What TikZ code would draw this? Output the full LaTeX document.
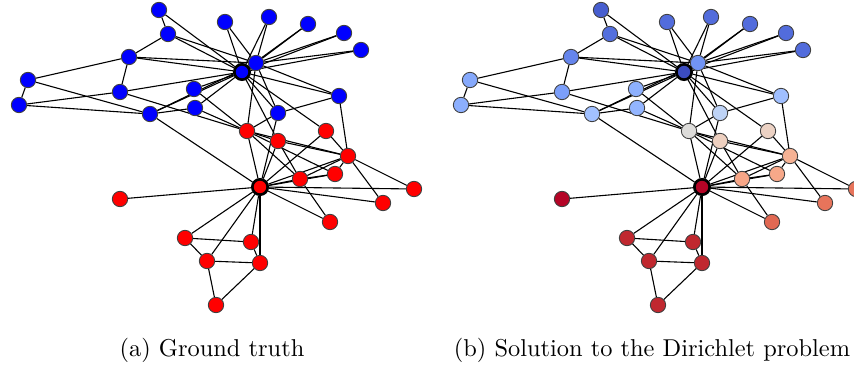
\documentclass[tikz,border=0pt]{standalone}
\usetikzlibrary{backgrounds}

\definecolor{gtblue}{RGB}{0,0,255}
\definecolor{gtred}{RGB}{255,0,0}
% Dirichlet solution, one colour per vertex
\definecolor{dc0}{RGB}{180,4,38}
\definecolor{dc1}{RGB}{246,178,148}
\definecolor{dc2}{RGB}{221,220,218}
\definecolor{dc3}{RGB}{247,166,135}
\definecolor{dc4}{RGB}{192,40,47}
\definecolor{dc5}{RGB}{192,40,47}
\definecolor{dc6}{RGB}{192,40,47}
\definecolor{dc7}{RGB}{247,168,137}
\definecolor{dc8}{RGB}{190,211,246}
\definecolor{dc9}{RGB}{141,176,254}
\definecolor{dc10}{RGB}{192,40,47}
\definecolor{dc11}{RGB}{180,4,38}
\definecolor{dc12}{RGB}{225,104,82}
\definecolor{dc13}{RGB}{238,208,192}
\definecolor{dc14}{RGB}{82,108,220}
\definecolor{dc15}{RGB}{82,108,220}
\definecolor{dc16}{RGB}{192,40,47}
\definecolor{dc17}{RGB}{231,116,91}
\definecolor{dc18}{RGB}{82,108,220}
\definecolor{dc19}{RGB}{236,210,196}
\definecolor{dc20}{RGB}{82,108,220}
\definecolor{dc21}{RGB}{231,116,91}
\definecolor{dc22}{RGB}{82,108,220}
\definecolor{dc23}{RGB}{101,133,236}
\definecolor{dc24}{RGB}{140,175,254}
\definecolor{dc25}{RGB}{134,169,252}
\definecolor{dc26}{RGB}{71,94,207}
\definecolor{dc27}{RGB}{124,159,249}
\definecolor{dc28}{RGB}{147,181,255}
\definecolor{dc29}{RGB}{83,111,221}
\definecolor{dc30}{RGB}{160,191,255}
\definecolor{dc31}{RGB}{162,193,255}
\definecolor{dc32}{RGB}{113,148,244}
\definecolor{dc33}{RGB}{59,76,192}

\tikzset{
  vertex/.style={circle,draw=black!75,line width=0.35pt,inner sep=0pt,minimum size=6.3pt},
  hub/.style={vertex,draw=black,line width=1.1pt},
  edge/.style={line width=0.45pt,black}
}

\begin{document}
\begin{tikzpicture}[x=0.41pt,y=-0.41pt]
\useasboundingbox (0,0) rectangle (854,365);
\clip (0,0) rectangle (854,365);

% vertices: (a) ground truth, (b) Dirichlet solution
\foreach \n/\x/\y/\g/\s in {0/260/187/gtred/hub, 1/348/156/gtred/vertex,
  2/247/131/gtred/vertex, 3/300/179/gtred/vertex, 4/251/242/gtred/vertex,
  5/207/261/gtred/vertex, 6/260/263/gtred/vertex, 7/335/174/gtred/vertex,
  8/278/113/gtblue/vertex, 9/194/89/gtblue/vertex, 10/185/238/gtred/vertex,
  11/120/199/gtred/vertex, 12/330/222/gtred/vertex, 13/278/141/gtred/vertex,
  14/225/22/gtblue/vertex, 15/269/17/gtblue/vertex, 16/216/305/gtred/vertex,
  17/414/189/gtred/vertex, 18/308/24/gtblue/vertex, 19/326/131/gtred/vertex,
  20/344/33/gtblue/vertex, 21/383/203/gtred/vertex, 22/361/50/gtblue/vertex,
  23/129/57/gtblue/vertex, 24/19/105/gtblue/vertex, 25/28/80/gtblue/vertex,
  26/159/10/gtblue/vertex, 27/120/92/gtblue/vertex, 28/195/108/gtblue/vertex,
  29/168/34/gtblue/vertex, 30/339/96/gtblue/vertex, 31/150/114/gtblue/vertex,
  32/256/63/gtblue/vertex, 33/242/72/gtblue/hub}{
  \node[\s,fill=\g] (a\n) at (\x,\y) {};
  \node[\s,fill=dc\n] (b\n) at (\x+442,\y) {};
}

\begin{scope}[on background layer]
\foreach \u/\v in {0/1,0/2,0/3,0/4,0/5,0/6,0/7,0/8,0/10,0/11,0/12,0/13,0/17,
  0/19,0/21,0/31,1/2,1/3,1/7,1/13,1/17,1/19,1/21,1/30,2/3,2/7,2/8,2/9,2/13,
  2/27,2/28,2/32,3/7,3/12,3/13,4/6,4/10,5/6,5/10,5/16,6/16,8/30,8/32,8/33,
  9/33,13/33,14/32,14/33,15/32,15/33,18/32,18/33,19/33,20/32,20/33,22/32,
  22/33,23/25,23/27,23/29,23/32,23/33,24/25,24/27,24/31,25/31,26/29,26/33,
  27/33,28/31,28/33,29/32,29/33,30/32,30/33,31/32,31/33,32/33}
  \draw[edge] (a\u) -- (a\v) (b\u) -- (b\v);
\end{scope}

\node[anchor=base] (capa) at (212,356) {(a) Ground truth};
\node[anchor=base] (capb) at (652,356) {(b) Solution to the Dirichlet problem};
\end{tikzpicture}
\end{document}
